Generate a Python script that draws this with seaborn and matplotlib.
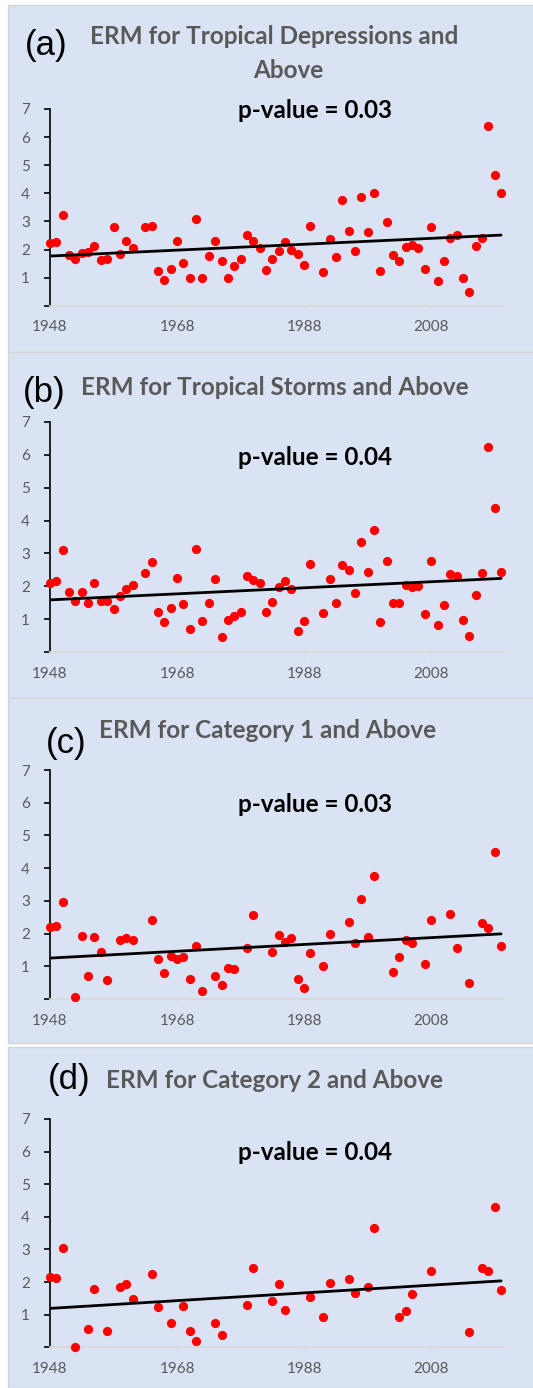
import numpy as np
import pandas as pd
import matplotlib
matplotlib.use("Agg")
import matplotlib.pyplot as plt
from matplotlib.patches import Rectangle
import seaborn as sns

# ---- data: annual ERM values per intensity threshold ----
years_a = [1948, 1949, 1950, 1951, 1952, 1953, 1954, 1955, 1956, 1957, 1958, 1959, 1960, 1961,
           1963, 1964, 1965, 1966, 1967, 1968, 1969, 1970, 1971, 1972, 1973, 1974, 1975, 1976,
           1977, 1978, 1979, 1980, 1981, 1982, 1983, 1984, 1985, 1986, 1987, 1988, 1989,
           1991, 1992, 1993, 1994, 1995, 1996, 1997, 1998, 1999, 2000, 2001, 2002, 2003, 2004,
           2005, 2006, 2007, 2008, 2009, 2010, 2011, 2012, 2013, 2014, 2015, 2016, 2017, 2018, 2019]
erm_a = [2.24, 2.27, 3.24, 1.80, 1.66, 1.86, 1.92, 2.14, 1.61, 1.66, 2.80, 1.85, 2.32, 2.06,
         2.79, 2.85, 1.23, 0.93, 1.30, 2.31, 1.53, 0.98, 3.07, 1.00, 1.77, 2.29, 1.60, 0.98,
         1.41, 1.66, 2.50, 2.31, 2.04, 1.27, 1.66, 1.96, 2.28, 1.98, 1.84, 1.44, 2.84,
         1.19, 2.36, 1.73, 3.77, 2.67, 1.95, 3.87, 2.61, 4.02, 1.25, 2.98, 1.80, 1.59, 2.09,
         2.17, 2.05, 1.30, 2.81, 0.88, 1.59, 2.40, 2.51, 1.00, 0.49, 2.14, 2.40, 6.41, 4.65, 4.01]

years_b = list(years_a)
erm_b = [2.10, 2.16, 3.12, 1.82, 1.57, 1.82, 1.49, 2.10, 1.57, 1.57, 1.32, 1.72, 1.93, 2.03,
         2.41, 2.73, 1.22, 0.92, 1.33, 2.26, 1.47, 0.72, 3.13, 0.96, 1.49, 2.21, 0.45, 0.98,
         1.09, 1.22, 2.31, 2.19, 2.11, 1.22, 1.54, 1.97, 2.16, 1.91, 0.66, 0.94, 2.69,
         1.18, 2.24, 1.51, 2.64, 2.51, 1.81, 3.36, 2.44, 3.72, 0.91, 2.78, 1.51, 1.51, 2.03,
         1.98, 2.01, 1.16, 2.76, 0.84, 1.44, 2.37, 2.33, 0.98, 0.48, 1.74, 2.40, 6.24, 4.37, 2.45]

years_c = [1948, 1949, 1950, 1952, 1953, 1954, 1955, 1956, 1957, 1959, 1960, 1961, 1964, 1965,
           1966, 1967, 1968, 1969, 1970, 1971, 1972, 1974, 1975, 1976, 1977, 1979, 1980,
           1983, 1984, 1985, 1986, 1987, 1988, 1989, 1991, 1992, 1995, 1996, 1997, 1998, 1999,
           2002, 2003, 2004, 2005, 2007, 2008, 2011, 2012, 2014, 2016, 2017, 2018, 2019]
erm_c = [2.19, 2.22, 2.95, 0.05, 1.93, 0.70, 1.89, 1.43, 0.57, 1.79, 1.85, 1.79, 2.42, 1.22,
         0.81, 1.31, 1.22, 1.29, 0.62, 1.61, 0.24, 0.71, 0.42, 0.96, 0.91, 1.57, 2.56,
         1.43, 1.95, 1.73, 1.85, 0.60, 0.35, 1.41, 1.00, 1.99, 2.36, 1.72, 3.07, 1.91, 3.77,
         0.84, 1.29, 1.79, 1.71, 1.07, 2.40, 2.60, 1.56, 0.50, 2.31, 2.16, 4.50, 1.62]

years_d = [1948, 1949, 1950, 1952, 1954, 1955, 1957, 1959, 1960, 1961, 1964, 1965, 1967, 1969,
           1970, 1971, 1974, 1975, 1979, 1980, 1983, 1984, 1985, 1989, 1991, 1992, 1995, 1996,
           1998, 1999, 2003, 2004, 2005, 2008, 2014, 2016, 2017, 2018, 2019]
erm_d = [2.15, 2.11, 3.03, 0.01, 0.57, 1.80, 0.51, 1.84, 1.93, 1.47, 2.24, 1.24, 0.76, 1.28,
         0.51, 0.20, 0.73, 0.39, 1.31, 2.42, 1.42, 1.94, 1.15, 1.53, 0.92, 1.98, 2.08, 1.65,
         1.85, 3.67, 0.93, 1.11, 1.64, 2.34, 0.48, 2.42, 2.34, 4.29, 1.76]

panel_tags = ["(a)", "(b)", "(c)", "(d)"]
panel_titles = [["ERM for Tropical Depressions and", "Above"],
                ["ERM for Tropical Storms and Above"],
                ["ERM for Category 1 and Above"],
                ["ERM for Category 2 and Above"]]
p_values = ["0.03", "0.04", "0.03", "0.04"]
x_ticks = [1948, 1968, 1988, 2008]
y_ticks = [0, 1, 2, 3, 4, 5, 6, 7]
y_ticklabels = ["", "1", "2", "3", "4", "5", "6", "7"]

series = [(years_a, erm_a), (years_b, erm_b), (years_c, erm_c), (years_d, erm_d)]

# ---- figure layout (pixel geometry of a 533 x 1388 canvas) ----
W, H = 533, 1388
sns.set_theme(style="white")
plt.rcParams["font.family"] = ["Lato", "DejaVu Sans"]

fig = plt.figure(figsize=(W / 100, H / 100), dpi=100)
fig.patch.set_facecolor("white")

def fx(px):
    return px / W

def fy(py):
    return 1 - py / H

BG = "#dae3f3"
GREY_TXT = "#595959"

# panel boxes: (top, bottom) in pixels
boxes = [(5, 352), (352, 698), (698, 1043), (1047, 1388)]
# axes extents: (y of value 0, y of value 7) in pixels
axes_px = [(305.7, 109), (652.3, 421.7), (999, 770), (1347.3, 1119)]
# text anchors
tag_pos = [(46, 46), (44, 392), (66, 743), (69, 1080)]
title_pos = [[(274, 37), (288, 70)], [(275, 387)], [(268, 731)], [(275, 1080)]]
pval_base = [118, 465, 812, 1160]

ax_left, ax_right = 50, 503

for i, (yrs, vals) in enumerate(series):
    top, bot = boxes[i]
    fig.patches.append(Rectangle((fx(8), fy(bot)), fx(W) - fx(8) + 0.01, fy(top) - fy(bot),
                                 transform=fig.transFigure, facecolor=BG,
                                 edgecolor="#d4d4d4", lw=1.0, zorder=-5))

    y0, y7 = axes_px[i]
    ax = fig.add_axes([fx(ax_left), fy(y0), fx(ax_right) - fx(ax_left), fy(y7) - fy(y0)])
    ax.set_facecolor("none")

    df = pd.DataFrame({"year": yrs, "erm": vals})
    sns.regplot(data=df, x="year", y="erm", ax=ax, ci=None, truncate=True,
                scatter_kws=dict(color="#ff0000", s=44, alpha=1, linewidths=0,
                                 clip_on=False, zorder=3),
                line_kws=dict(color="black", lw=2.0, zorder=4))

    ax.set_xlim(1948, 2019.3)
    ax.set_ylim(0, 7)
    ax.set_xlabel("")
    ax.set_ylabel("")
    ax.set_xticks(x_ticks)
    ax.set_xticklabels([str(t) for t in x_ticks])
    ax.set_yticks(y_ticks)
    ax.set_yticklabels(y_ticklabels)

    for s in ["top", "right"]:
        ax.spines[s].set_visible(False)
    ax.spines["left"].set_color("black")
    ax.spines["left"].set_linewidth(1.2)
    ax.spines["bottom"].set_color("#d9d9d9")
    ax.spines["bottom"].set_linewidth(1.3)

    ax.tick_params(axis="y", which="major", direction="out", length=4.5, width=1.2,
                   color="black", labelcolor=GREY_TXT, labelsize=11, pad=10, left=True)
    ax.tick_params(axis="x", which="major", direction="out", length=3.5, width=1.0,
                   color="#d9d9d9", labelcolor=GREY_TXT, labelsize=11, pad=7, bottom=True)

    # panel tag and title
    tx, ty = tag_pos[i]
    fig.text(fx(tx), fy(ty), panel_tags[i], ha="center", va="center",
             fontsize=25, color="black", family=["Liberation Sans", "DejaVu Sans"])
    for line, (lx, ly) in zip(panel_titles[i], title_pos[i]):
        fig.text(fx(lx), fy(ly), line, ha="center", va="center",
                 fontsize=17.5, fontweight="bold", color=GREY_TXT)

    fig.text(fx(315), fy(pval_base[i]), f"p-value = {p_values[i]}", ha="center",
             va="baseline", fontsize=17.5, fontweight="bold", color="black")

fig.savefig("out.png", dpi=100, facecolor="white")
